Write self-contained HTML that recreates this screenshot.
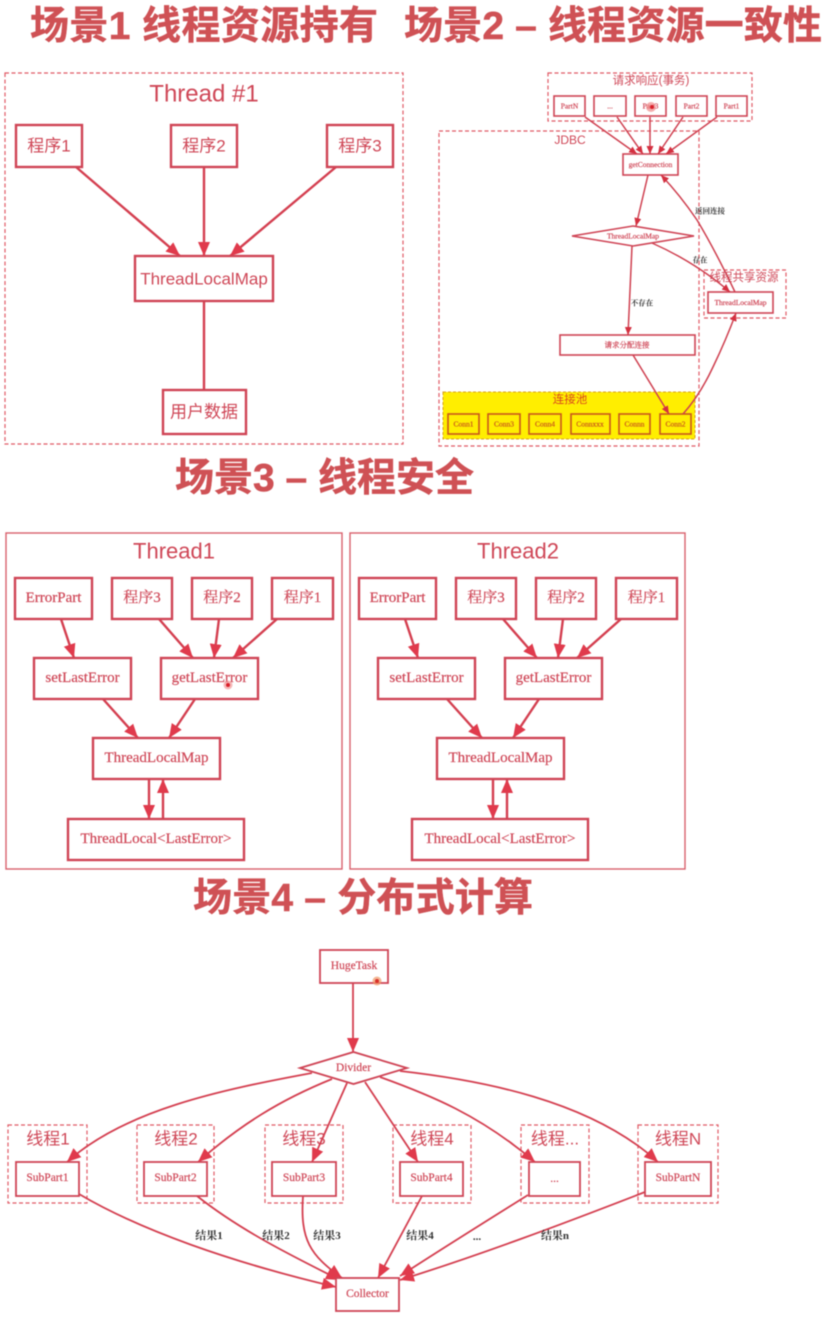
<!DOCTYPE html>
<html>
<head>
<meta charset="utf-8">
<style>
html,body{margin:0;padding:0;background:#fff;width:827px;height:1318px;overflow:hidden}
svg{display:block;filter:blur(.5px)}
.t{font-family:"Liberation Sans","Noto Sans CJK SC",sans-serif;font-weight:700;font-size:39px;fill:#cf5155;stroke:#cf5155;stroke-width:.5}
.s{font-family:"Liberation Serif","Noto Serif CJK SC",serif;fill:#cf4757;stroke:#cf4757;stroke-width:.2;text-anchor:middle;dominant-baseline:central}
.h{font-family:"Liberation Sans","Noto Sans CJK SC",sans-serif;fill:#cf4757;text-anchor:middle;dominant-baseline:central}
.l{font-family:"Liberation Serif","Noto Serif CJK SC",serif;fill:#333;font-weight:700;text-anchor:middle;dominant-baseline:central}
.n rect,.n polygon{fill:#fff;stroke:#cf4455;stroke-width:2.4}
.n2 rect,.n2 polygon{fill:#fff;stroke:#cf4455;stroke-width:1.6}
.n3 rect,.n3 polygon{fill:#fff;stroke:#cf4455;stroke-width:1.8}
.c{fill:none;stroke:#e05a66;stroke-width:1.2;stroke-dasharray:4 2.5}
.c2{fill:none;stroke:#d9606c;stroke-width:1.4}
.a path{fill:none;stroke:#d43f50;stroke-width:2.4}
.a2 path{fill:none;stroke:#cf4050;stroke-width:1.5}
.a3 path{fill:none;stroke:#d43f50;stroke-width:1.8}
</style>
</head>
<body>
<svg width="827" height="1318" viewBox="0 0 827 1318" xmlns="http://www.w3.org/2000/svg">
<defs>
<marker id="m" markerUnits="userSpaceOnUse" markerWidth="16" markerHeight="14" refX="14" refY="6" orient="auto"><path d="M0,0L14,6L0,12z" fill="#e03a4c"/></marker>
<marker id="k" markerUnits="userSpaceOnUse" markerWidth="10" markerHeight="8" refX="8" refY="3.5" orient="auto"><path d="M0,0L8,3.5L0,7z" fill="#d43040"/></marker>
</defs>
<rect width="827" height="1318" fill="#fff"/>

<text class="t" x="30" y="39" textLength="348" lengthAdjust="spacing">场景1 线程资源持有</text>
<text class="t" x="404" y="39" textLength="418" lengthAdjust="spacing">场景2 – 线程资源一致性</text>
<text class="t" x="175" y="491" textLength="299" lengthAdjust="spacing">场景3 – 线程安全</text>
<text class="t" x="193" y="911" textLength="340" lengthAdjust="spacing">场景4 – 分布式计算</text>

<!-- Scene 1 -->
<rect class="c" x="5" y="73" width="398" height="371"/>
<text class="h" x="204" y="94" font-size="24">Thread #1</text>
<g class="a">
<path d="M76,167L180,256" marker-end="url(#m)"/>
<path d="M204,167L204,256" marker-end="url(#m)"/>
<path d="M336,167L230,256" marker-end="url(#m)"/>
<path d="M204,301L204,390"/>
</g>
<g class="n">
<rect x="16" y="125" width="66" height="42"/>
<rect x="171" y="125" width="66" height="42"/>
<rect x="327" y="125" width="66" height="42"/>
<rect x="135" y="256" width="138" height="45"/>
<rect x="163" y="390" width="83" height="44"/>
</g>
<text class="h" x="49" y="146" font-size="17">程序1</text>
<text class="h" x="204" y="146" font-size="17">程序2</text>
<text class="h" x="360" y="146" font-size="17">程序3</text>
<text class="h" x="204" y="279" font-size="17">ThreadLocalMap</text>
<text class="h" x="204" y="412" font-size="17">用户数据</text>

<!-- Scene 2 -->
<rect class="c" x="548" y="73" width="204" height="48"/>
<rect class="c" x="439" y="131" width="260" height="315"/>
<rect class="c" x="704" y="270" width="82" height="48"/>
<rect x="443" y="392" width="252" height="47" fill="#ffee00" stroke="#d8a020" stroke-width="1" stroke-dasharray="3 2"/>
<text class="h" x="651" y="81" font-size="11.5">请求响应(事务)</text>
<text class="h" x="570" y="140" font-size="12">JDBC</text>
<text class="h" x="744" y="278" font-size="11.5">线程共享资源</text>
<text class="h" x="570" y="400" font-size="11.5" style="fill:#d8451f">连接池</text>
<g class="n2">
<rect x="554" y="96" width="31" height="20"/>
<rect x="594" y="96" width="32" height="20"/>
<rect x="635" y="96" width="31" height="20"/>
<rect x="676" y="96" width="31" height="20"/>
<rect x="716" y="96" width="31" height="20"/>
<rect x="623" y="154" width="55" height="21"/>
<polygon points="572,236 633,226 694,236 633,246"/>
<rect x="560" y="335" width="135" height="20"/>
<rect x="708" y="292" width="65" height="21"/>
</g>
<g fill="none" stroke="#c8561c" stroke-width="1.6">
<rect x="448" y="414" width="31" height="20"/>
<rect x="488" y="414" width="32" height="20"/>
<rect x="529" y="414" width="32" height="20"/>
<rect x="571" y="414" width="39" height="20"/>
<rect x="619" y="414" width="31" height="20"/>
<rect x="660" y="414" width="31" height="20"/>
</g>
<g class="a2">
<path d="M585,117L637,154" marker-end="url(#k)"/>
<path d="M617,117L643,154" marker-end="url(#k)"/>
<path d="M650,117L650,154" marker-end="url(#k)"/>
<path d="M683,117L658,154" marker-end="url(#k)"/>
<path d="M717,117L666,154" marker-end="url(#k)"/>
<path d="M648,175L636,226" marker-end="url(#k)"/>
<path d="M632,246L628,335" marker-end="url(#k)"/>
<path d="M652,243Q695,262 730,292" marker-end="url(#k)"/>
<path d="M735,292Q715,250 697,220Q680,195 661,175" marker-end="url(#k)"/>
<path d="M633,355L669,414" marker-end="url(#k)"/>
<path d="M683,414Q700,395 713,367Q726,340 736,313" marker-end="url(#k)"/>
</g>
<g font-size="7.5">
<text class="s" x="569.5" y="106">PartN</text>
<text class="s" x="610" y="106">...</text>
<text class="s" x="650.5" y="106">Part3</text>
<text class="s" x="691.5" y="106">Part2</text>
<text class="s" x="731.5" y="106">Part1</text>
<text class="s" x="650.5" y="164.5">getConnection</text>
<text class="s" x="633" y="236">ThreadLocalMap</text>
<text class="s" x="627" y="345">请求分配连接</text>
<text class="s" x="740.5" y="302.5">ThreadLocalMap</text>
</g>
<g font-size="7.5">
<text class="s" x="463.5" y="424" style="fill:#c8561c;stroke:#c8561c">Conn1</text>
<text class="s" x="504" y="424" style="fill:#c8561c;stroke:#c8561c">Conn3</text>
<text class="s" x="545" y="424" style="fill:#c8561c;stroke:#c8561c">Conn4</text>
<text class="s" x="590" y="424" style="fill:#c8561c;stroke:#c8561c">Connxxx</text>
<text class="s" x="634.5" y="424" style="fill:#c8561c;stroke:#c8561c">Connn</text>
<text class="s" x="675.5" y="424" style="fill:#c8561c;stroke:#c8561c">Conn2</text>
</g>
<g font-size="7.5">
<text class="l" x="710" y="211">返回连接</text>
<text class="l" x="700" y="260">存在</text>
<text class="l" x="642" y="303">不存在</text>
</g>
<circle cx="651" cy="107" r="5" fill="#f08a8a" opacity=".7"/>
<circle cx="652" cy="107" r="2" fill="#d9202a"/>

<!-- Scene 3 Thread1 -->
<rect class="c2" x="6" y="533" width="336" height="336"/>
<text class="h" x="174" y="551" font-size="22">Thread1</text>
<g class="a">
<path d="M61,619L74,658" marker-end="url(#m)"/>
<path d="M159,619L193,658" marker-end="url(#m)"/>
<path d="M219,619L214,658" marker-end="url(#m)"/>
<path d="M277,619L233,658" marker-end="url(#m)"/>
<path d="M103,699L138,738" marker-end="url(#m)"/>
<path d="M195,699L169,738" marker-end="url(#m)"/>
<path d="M149,779L149,819" marker-end="url(#m)"/>
<path d="M163,819L163,779" marker-end="url(#m)"/>
</g>
<g class="n">
<rect x="15" y="578" width="77" height="41"/>
<rect x="112" y="578" width="60" height="41"/>
<rect x="192" y="578" width="60" height="41"/>
<rect x="272" y="578" width="61" height="41"/>
<rect x="34" y="658" width="97" height="41"/>
<rect x="161" y="658" width="97" height="41"/>
<rect x="93" y="738" width="127" height="41"/>
<rect x="68" y="819" width="176" height="41"/>
</g>
<g font-size="15">
<text class="s" x="53.5" y="598">ErrorPart</text>
<text class="s" x="142" y="598">程序3</text>
<text class="s" x="222" y="598">程序2</text>
<text class="s" x="302.5" y="598">程序1</text>
<text class="s" x="82.5" y="678">setLastError</text>
<text class="s" x="209.5" y="678">getLastError</text>
<text class="s" x="156.5" y="758">ThreadLocalMap</text>
<text class="s" x="156" y="839">ThreadLocal&lt;LastError&gt;</text>
</g>
<circle cx="228" cy="685" r="4.5" fill="#f08a8a" opacity=".6"/>
<circle cx="228" cy="685" r="2" fill="#d9202a"/>

<!-- Scene 3 Thread2 -->
<rect class="c2" x="350" y="533" width="335" height="336"/>
<text class="h" x="518" y="551" font-size="22">Thread2</text>
<g class="a">
<path d="M405,619L418,658" marker-end="url(#m)"/>
<path d="M503,619L537,658" marker-end="url(#m)"/>
<path d="M563,619L558,658" marker-end="url(#m)"/>
<path d="M621,619L577,658" marker-end="url(#m)"/>
<path d="M447,699L482,738" marker-end="url(#m)"/>
<path d="M539,699L513,738" marker-end="url(#m)"/>
<path d="M493,779L493,819" marker-end="url(#m)"/>
<path d="M507,819L507,779" marker-end="url(#m)"/>
</g>
<g class="n">
<rect x="359" y="578" width="77" height="41"/>
<rect x="456" y="578" width="60" height="41"/>
<rect x="536" y="578" width="60" height="41"/>
<rect x="616" y="578" width="61" height="41"/>
<rect x="378" y="658" width="97" height="41"/>
<rect x="505" y="658" width="97" height="41"/>
<rect x="437" y="738" width="127" height="41"/>
<rect x="412" y="819" width="176" height="41"/>
</g>
<g font-size="15">
<text class="s" x="397.5" y="598">ErrorPart</text>
<text class="s" x="486" y="598">程序3</text>
<text class="s" x="566" y="598">程序2</text>
<text class="s" x="646.5" y="598">程序1</text>
<text class="s" x="426.5" y="678">setLastError</text>
<text class="s" x="553.5" y="678">getLastError</text>
<text class="s" x="500.5" y="758">ThreadLocalMap</text>
<text class="s" x="500" y="839">ThreadLocal&lt;LastError&gt;</text>
</g>

<!-- Scene 4 -->
<rect class="c" x="8" y="1125" width="79" height="78"/>
<rect class="c" x="137" y="1125" width="77" height="78"/>
<rect class="c" x="265" y="1125" width="78" height="78"/>
<rect class="c" x="393" y="1125" width="78" height="78"/>
<rect class="c" x="521" y="1125" width="68" height="78"/>
<rect class="c" x="638" y="1125" width="80" height="78"/>
<g font-size="17">
<text class="h" x="48" y="1139">线程1</text>
<text class="h" x="176" y="1139">线程2</text>
<text class="h" x="304" y="1139">线程3</text>
<text class="h" x="432" y="1139">线程4</text>
<text class="h" x="555" y="1139">线程...</text>
<text class="h" x="678" y="1139">线程N</text>
</g>
<g class="a3">
<path d="M353,983L353,1052" marker-end="url(#m)"/>
<path d="M312,1073C220,1090 125,1110 67,1162" marker-end="url(#m)"/>
<path d="M332,1079C280,1100 240,1125 198,1162" marker-end="url(#m)"/>
<path d="M347,1083L312,1162" marker-end="url(#m)"/>
<path d="M365,1082L418,1162" marker-end="url(#m)"/>
<path d="M380,1077C430,1095 480,1115 535,1162" marker-end="url(#m)"/>
<path d="M400,1071C480,1080 590,1100 658,1162" marker-end="url(#m)"/>
<path d="M79,1194C140,1230 230,1262 336,1287" marker-end="url(#m)"/>
<path d="M197,1196C240,1230 290,1255 340,1280" marker-end="url(#m)"/>
<path d="M303,1196C300,1240 310,1255 342,1278" marker-end="url(#m)"/>
<path d="M422,1196L378,1278" marker-end="url(#m)"/>
<path d="M528,1195C480,1225 440,1250 400,1276" marker-end="url(#m)"/>
<path d="M645,1192C560,1225 480,1255 400,1280" marker-end="url(#m)"/>
</g>
<g class="n3">
<rect x="320" y="950" width="68" height="33"/>
<polygon points="300,1068 353.5,1052 407,1068 353.5,1084"/>
<rect x="16" y="1162" width="63" height="34"/>
<rect x="144" y="1162" width="63" height="34"/>
<rect x="272" y="1162" width="64" height="34"/>
<rect x="400" y="1162" width="63" height="34"/>
<rect x="529" y="1162" width="51" height="34"/>
<rect x="645" y="1162" width="66" height="34"/>
<rect x="336" y="1278" width="63" height="33"/>
</g>
<g font-size="11.5">
<text class="s" x="354" y="966">HugeTask</text>
<text class="s" x="353.5" y="1068">Divider</text>
<text class="s" x="47.5" y="1178">SubPart1</text>
<text class="s" x="175.5" y="1178">SubPart2</text>
<text class="s" x="304" y="1178">SubPart3</text>
<text class="s" x="431.5" y="1178">SubPart4</text>
<text class="s" x="554.5" y="1179">...</text>
<text class="s" x="678" y="1178">SubPartN</text>
<text class="s" x="367.5" y="1294">Collector</text>
</g>
<g font-size="11">
<text class="l" x="209" y="1236">结果1</text>
<text class="l" x="276" y="1236">结果2</text>
<text class="l" x="327" y="1236">结果3</text>
<text class="l" x="420" y="1236">结果4</text>
<text class="l" x="477" y="1237">...</text>
<text class="l" x="555" y="1236">结果n</text>
</g>
<circle cx="377" cy="981" r="4.5" fill="#f09a6a" opacity=".7"/>
<circle cx="377" cy="981" r="2" fill="#d9302a"/>
</svg>
</body>
</html>
